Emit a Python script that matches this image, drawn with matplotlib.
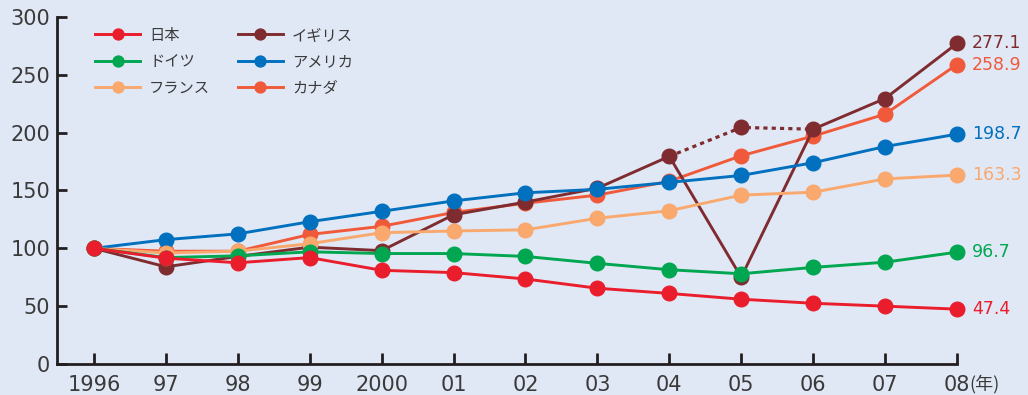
import matplotlib.pyplot as plt

plt.rcParams['font.family'] = ['DejaVu Sans', 'Noto Sans CJK JP']

# 1996 = 100 とした指数
years = [1996, 1997, 1998, 1999, 2000, 2001, 2002, 2003, 2004, 2005, 2006, 2007, 2008]
year_labels = ['1996', '97', '98', '99', '2000', '01', '02', '03', '04', '05', '06', '07', '08']

japan = [100, 91.5, 87.5, 92, 81, 79, 73.5, 65.5, 61, 56, 52.5, 50, 47.4]
germany = [100, 92, 93.5, 97, 95.5, 95.5, 93, 87, 81.5, 78, 83.5, 88, 96.7]
france = [100, 96, 97.5, 104, 113.5, 115, 116, 126, 132.5, 146, 148.5, 160, 163.3]
uk = [100, 84, 93, 101, 98, 129, 140, 152, 179.5, 75, 203, 229.5, 277.1]
usa = [100, 107.5, 112.5, 123, 132, 141, 148, 151, 157, 163, 174, 188, 198.7]
canada = [100, 97.5, 97.5, 112, 119, 131, 139, 146, 158, 180, 197, 216, 258.9]

# イギリス 2004-06 の別系列（点線）
uk_alt_years = [2004, 2005, 2006]
uk_alt = [179.5, 204.5, 203]

colors = {
    '日本': '#ea1d2c',
    'ドイツ': '#00a650',
    'フランス': '#f9a86e',
    'イギリス': '#7f2c30',
    'アメリカ': '#0070bf',
    'カナダ': '#f05a3b',
}

text_color = '#3a3a3a'

fig = plt.figure(figsize=(10.28, 3.95), dpi=100)
fig.patch.set_facecolor('#e1e8f5')
ax = fig.add_axes([0.0554, 0.0785, 0.8755, 0.8785])
ax.set_facecolor('#e1e8f5')

style = dict(lw=2.1, marker='o', markersize=10.5, clip_on=False)

# 描画順（後ろほど前面）
ax.plot(years, canada, color=colors['カナダ'], label='カナダ', zorder=3, **style)
ax.plot(uk_alt_years, uk_alt, color=colors['イギリス'], lw=2.3,
        linestyle=(0, (1.3, 1.3)), zorder=3, clip_on=False)
ax.plot([2005], [uk_alt[1]], 'o', color=colors['イギリス'], markersize=10.5, zorder=4)
ax.plot(years, uk, color=colors['イギリス'], label='イギリス', zorder=4, **style)
ax.plot(years, usa, color=colors['アメリカ'], label='アメリカ', zorder=5, **style)
ax.plot(years, france, color=colors['フランス'], label='フランス', zorder=6, **style)
ax.plot(years, germany, color=colors['ドイツ'], label='ドイツ', zorder=7, **style)
ax.plot(years, japan, color=colors['日本'], label='日本', zorder=8, **style)

# 2008年の値ラベル
last = [(uk, 'イギリス'), (canada, 'カナダ'), (usa, 'アメリカ'),
        (france, 'フランス'), (germany, 'ドイツ'), (japan, '日本')]
for series, name in last:
    ax.annotate(f'{series[-1]:.1f}', xy=(years[-1], series[-1]),
                xytext=(11, 0), textcoords='offset points',
                color=colors[name], fontsize=12.5, va='center', ha='left',
                annotation_clip=False)

ax.set_xlim(1995.485, 2008)
ax.set_ylim(0, 300)
ax.set_xticks(years)
ax.set_xticklabels(year_labels)
ax.set_yticks(range(0, 301, 50))

for s in ['top', 'right']:
    ax.spines[s].set_visible(False)
for s in ['left', 'bottom']:
    ax.spines[s].set_linewidth(2)
    ax.spines[s].set_color('#231f20')

ax.tick_params(axis='x', direction='in', length=8, width=2, color='#231f20',
               labelsize=15, labelcolor=text_color, pad=8)
ax.tick_params(axis='y', direction='in', length=7, width=2, color='#231f20',
               labelsize=15, labelcolor=text_color, pad=5)

ax.annotate('(年)', xy=(2008, 0), xytext=(9, -14.5), textcoords='offset points',
            fontsize=13, color=text_color, va='center', ha='left',
            family=['Noto Sans CJK JP'], annotation_clip=False)

handles, labels = ax.get_legend_handles_labels()
order = ['日本', 'ドイツ', 'フランス', 'イギリス', 'アメリカ', 'カナダ']
hmap = dict(zip(labels, handles))
leg = ax.legend([hmap[k] for k in order], order, ncol=2, frameon=False,
                loc='upper left', bbox_to_anchor=(0.027, 1.012),
                prop={'family': ['Noto Sans CJK JP'], 'size': 11},
                handlelength=2.95, columnspacing=1.8,
                labelspacing=0.62, handletextpad=0.6, markerscale=0.75)
for t in leg.get_texts():
    t.set_color(text_color)

fig.savefig('out.png', dpi=100, facecolor=fig.get_facecolor())
